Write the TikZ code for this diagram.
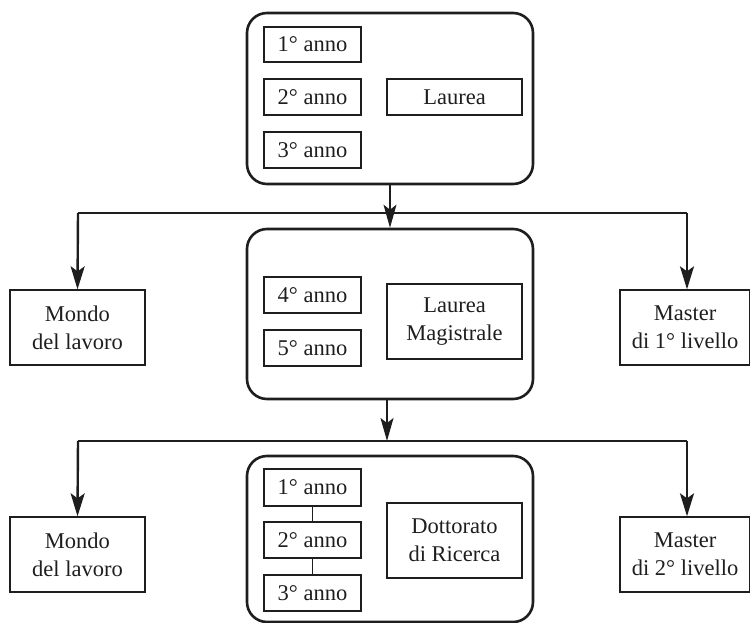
\documentclass[tikz,border=0pt]{standalone}
\usepackage{fontspec}
\setmainfont{Liberation Serif}
\usetikzlibrary{arrows.meta}
\definecolor{ink}{HTML}{1E1E1E}
\begin{document}
\begin{tikzpicture}[x=1pt,y=-1pt,
  font=\fontsize{22.5}{28}\selectfont,
  bigbox/.style={draw=ink,line width=2.6pt,rounded corners=20pt,minimum width=286pt,inner sep=0pt},
  yearbox/.style={draw=ink,line width=1.3pt,minimum width=97pt,minimum height=36pt,inner sep=0pt,text=ink},
  titlebox/.style={draw=ink,line width=1.3pt,minimum width=135pt,inner sep=0pt,align=center,text=ink},
  outbox/.style={draw=ink,line width=1.3pt,minimum height=75pt,inner sep=0pt,align=center,text=ink},
  thinarrow/.style={draw=ink,line width=1.3pt,-{Stealth[length=23pt,width=13pt,inset=5pt]}},
  thickarrow/.style={draw=ink,line width=2.4pt,-{Stealth[length=23pt,width=14pt,inset=5pt]}},
  thickline/.style={draw=ink,line width=2.4pt},
  link/.style={draw=ink,line width=1.3pt}]
\useasboundingbox (0,0) rectangle (750,623);
% big boxes
\node[bigbox,minimum height=171pt] (top) at (390,98.5) {};
\node[bigbox,minimum height=170pt] (mid) at (390,314) {};
\node[bigbox,minimum height=166pt] (bot) at (390,539) {};
% top content
\node[yearbox,minimum height=35pt] (t1) at (312.5,44.5) {1° anno};
\node[yearbox] (t2) at (312.5,97) {2° anno};
\node[yearbox] (t3) at (312.5,150) {3° anno};
\node[titlebox,minimum height=36pt] (laurea) at (454.5,97) {Laurea};
% middle content
\node[yearbox] (m4) at (312.5,295) {4° anno};
\node[yearbox] (m5) at (312.5,348) {5° anno};
\node[titlebox,minimum height=75pt] (lm) at (454.5,321.5) {Laurea\\Magistrale};
% bottom content
\node[yearbox,minimum height=37pt] (b1) at (312.5,487.5) {1° anno};
\node[yearbox] (b2) at (312.5,540) {2° anno};
\node[yearbox] (b3) at (312.5,593) {3° anno};
\node[titlebox,minimum height=75pt] (dott) at (454.5,540.5) {Dottorato\\di Ricerca};
\draw[link] (b1) -- (b2);
\draw[link] (b2) -- (b3);
% outcome boxes
\node[outbox,minimum width=135pt] (mondo1) at (77.5,327.5) {Mondo\\del lavoro};
\node[outbox,minimum width=130pt] (master1) at (685,327.5) {Master\\di 1° livello};
\node[outbox,minimum width=135pt] (mondo2) at (77.5,554.5) {Mondo\\del lavoro};
\node[outbox,minimum width=130pt] (master2) at (685,554.5) {Master\\di 2° livello};
% first level connectors
\coordinate (s1l) at (78,213);
\coordinate (s1r) at (687,213);
\draw[thinarrow] (top.south) -- (mid.north);
\draw[thickline] (s1l) -- (s1r);
\draw[thickarrow] (s1l) -- (mondo1.north);
\draw[thickarrow] (s1r) -- ([xshift=2pt]master1.north);
% second level connectors
\coordinate (s2) at (387,441);
\coordinate (s2l) at (78,441);
\coordinate (s2r) at (687,441);
\draw[thinarrow] ([xshift=-3pt]mid.south) -- (s2);
\draw[thickline] (s2l) -- (s2r);
\draw[thickarrow] (s2l) -- (mondo2.north);
\draw[thickarrow] (s2r) -- ([xshift=2pt]master2.north);
\end{tikzpicture}
\end{document}
